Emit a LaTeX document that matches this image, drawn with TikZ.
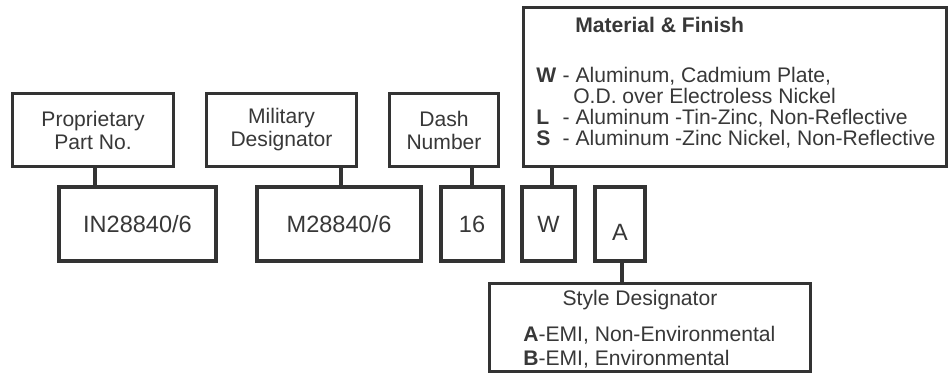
\documentclass[tikz,border=0pt]{standalone}
\usepackage{fontspec}
\setmainfont{Liberation Sans}
\usepackage{xcolor}
\usepackage{tikz}
\usetikzlibrary{positioning,calc}
\definecolor{linedark}{HTML}{333333}
\definecolor{textdark}{HTML}{383838}
\tikzset{
  labelbox/.style={draw=linedark, line width=1.6pt, align=center, fill=white, inner sep=0pt, minimum height=14.6mm, text=textdark, font=\fontsize{12}{13.1}\selectfont},
  valuebox/.style={draw=linedark, line width=2.2pt, align=center, fill=white, inner sep=0pt, minimum height=14.8mm, text=textdark, font=\fontsize{13.4}{14}\selectfont},
  infobox/.style={draw=linedark, line width=1.6pt, fill=white, inner sep=0pt},
  infotext/.style={align=left, inner sep=0pt, text=textdark},
  link/.style={draw=linedark, line width=2.8pt}
}

\begin{document}
\begin{tikzpicture}[x=0.2mm, y=-0.2mm, font=\fontsize{12}{12.1}\selectfont]
  \useasboundingbox (0,0) rectangle (950,374);

  % label boxes
  \node[labelbox, minimum width=32.2mm] (prop) at (93,130) {Proprietary\\Part No.};
  \node[labelbox, minimum width=30mm] (mil) at (281.5,130) {Military\\Designator};
  \node[labelbox, minimum width=21.8mm] (dash) at (444,130) {Dash\\Number};
  \node[infobox, minimum width=84.6mm, minimum height=31.8mm] (matBox) at (735,87) {};
  \node[infobox, minimum width=64.2mm, minimum height=17.6mm] (styleBox) at (650,327.5) {};

  % part number fields
  \node[valuebox, minimum width=31.4mm] (inVal) at (137.5,224) {IN28840/6};
  \node[valuebox, minimum width=32.8mm] (milVal) at (339,224) {M28840/6};
  \node[valuebox, minimum width=12.4mm] (dashVal) at (472,224) {16};
  \node[valuebox, minimum width=10.6mm] (matVal) at (548.5,224) {W};
  \node[valuebox, minimum width=10mm] (styleVal) at (620,224) {\raisebox{-1.7mm}[\height][0pt]{A}};

  % box texts
  \node[infotext, anchor=west, font=\bfseries\fontsize{12}{12.1}\selectfont] (matTitle) at (575,25) {Material \& Finish};
  \node[infotext, anchor=north west] (matList) at (536,66.5) {%
    \makebox[1.25em][l]{\textbf{W}}- Aluminum, Cadmium Plate,\\
    \hspace*{1.75em}O.D. over Electroless Nickel\\
    \makebox[1.25em][l]{\textbf{L}}- Aluminum -Tin-Zinc, Non-Reflective\\
    \makebox[1.25em][l]{\textbf{S}}- Aluminum -Zinc Nickel, Non-Reflective};
  \node[infotext] (styleTitle) at (640,300) {Style Designator};
  \node[infotext, anchor=north west, font=\fontsize{12}{13.7}\selectfont] (styleList) at (523,325.5) {%
    \textbf{A}-EMI, Non-Environmental\\
    \textbf{B}-EMI, Environmental};

  % connectors
  \draw[link] ([xshift=0.4mm]prop.south) -- ([xshift=0.4mm]prop.south |- inVal.north);
  \draw[link] ([xshift=0.4mm]milVal.north) -- ([xshift=0.4mm]milVal.north |- mil.south);
  \draw[link] (dashVal.north) -- (dashVal.north |- dash.south);
  \draw[link] ([xshift=0.7mm]matVal.north) -- ([xshift=0.7mm]matVal.north |- matBox.south);
  \draw[link] ([xshift=0.4mm]styleVal.south) -- ([xshift=0.4mm]styleVal.south |- styleBox.north);
\end{tikzpicture}
\end{document}
